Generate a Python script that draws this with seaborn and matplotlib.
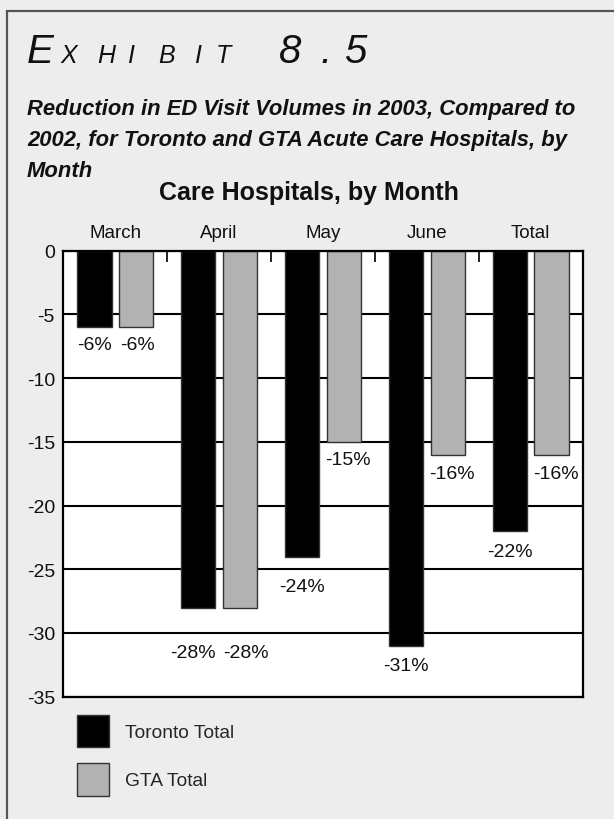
import matplotlib
matplotlib.use("Agg")
import matplotlib.pyplot as plt
import seaborn as sns
import pandas as pd
from matplotlib.patches import Rectangle

# ---- data ----
months = ["March", "April", "May", "June", "Total"]
toronto = [-6, -28, -24, -31, -22]
gta = [-6, -28, -15, -16, -16]
series_names = ["Toronto Total", "GTA Total"]
yticks = [0, -5, -10, -15, -20, -25, -30, -35]

# label offsets (pixels below bar end), style only
lab_dy = {"Toronto Total": [17, 45, 30, 20, 20], "GTA Total": [17, 45, 18, 19, 19]}
lab_dx = {"Toronto Total": [0, -5, 0, 0, 0], "GTA Total": [1, 6, 4, 4, 4]}

df = pd.DataFrame({
    "month": months * 2,
    "value": toronto + gta,
    "series": [series_names[0]] * len(months) + [series_names[1]] * len(months),
})

sns.set_theme(style="white")
FONT = ["Liberation Sans", "DejaVu Sans"]
plt.rcParams["font.family"] = FONT
plt.rcParams["axes.unicode_minus"] = False

W, H, DPI = 614, 820, 100
fig = plt.figure(figsize=(W / DPI, H / DPI), dpi=DPI)
fig.patch.set_facecolor("#EDEDED")

def fx(px):
    return px / W

def fy(py):
    return 1 - py / H

# border (runs off the right and bottom edges)
fig.patches.append(Rectangle((fx(7), fy(900)), fx(700), (900 - 12) / H,
                             transform=fig.transFigure, fill=False,
                             edgecolor="#555555", linewidth=1.6))

# title with spaced small caps
title_chars = [("E", 27, 29), ("X", 60, 18), ("H", 97, 18), ("I", 127, 18), ("B", 158, 18),
               ("I", 194, 18), ("T", 216, 18), ("8", 279, 29), (".", 320, 29), ("5", 344, 29)]
for ch, x, s in title_chars:
    fig.text(fx(x), fy(63), ch, fontsize=s, style="italic", color="#111111",
             ha="left", va="baseline")

sub_lines = ["Reduction in ED Visit Volumes in 2003, Compared to",
             "2002, for Toronto and GTA Acute Care Hospitals, by",
             "Month"]
for i, line in enumerate(sub_lines):
    fig.text(fx(27), fy(115 + i * 31), line, fontsize=15.8, weight="bold", style="italic",
             color="#111111", ha="left", va="baseline")

fig.text(fx(309), fy(200), "Care Hospitals, by Month", fontsize=18, weight="bold",
         color="#111111", ha="center", va="baseline")

# axes
ax = fig.add_axes([fx(63.3), fy(697.7), (582.7 - 63.3) / W, (697.7 - 251.7) / H])
ax.set_facecolor("white")
ax.set_axisbelow(True)

sns.barplot(data=df, x="month", y="value", hue="series", order=months,
            hue_order=series_names, palette=["#000000", "#B2B2B2"],
            width=0.8, gap=0.18, saturation=1, edgecolor="#333333", linewidth=1.0,
            ax=ax, legend=True, errorbar=None)
ax.set_ylim(-35, 0)
ax.set_xlim(-0.5, len(months) - 0.5)
ax.set_yticks(yticks)
ax.set_yticklabels([str(v) for v in yticks])
ax.yaxis.grid(True, color="black", linewidth=1.5)
ax.xaxis.grid(False)
ax.set_xlabel("")
ax.set_ylabel("")

for sp in ax.spines.values():
    sp.set_visible(True)
    sp.set_color("black")
    sp.set_linewidth(1.6)

ax.xaxis.tick_top()
ax.tick_params(axis="x", which="major", length=0, pad=7, labelsize=13.5, labelcolor="#111111")
ax.tick_params(axis="y", which="major", length=0, pad=6, labelsize=14, labelcolor="#111111")
ax.set_xticks([i + 0.5 for i in range(len(months) - 1)], minor=True)
ax.tick_params(axis="x", which="minor", direction="in", top=True, bottom=False,
               length=8, width=1.2, color="black")

# bar labels
for si, (name, vals) in enumerate([(series_names[0], toronto), (series_names[1], gta)]):
    for i, v in enumerate(vals):
        xpos = i + (-0.2 if si == 0 else 0.2)
        ax.annotate(f"{v}%", xy=(xpos, v), xytext=(lab_dx[name][i] * 0.72, -lab_dy[name][i] * 0.72),
                    textcoords="offset points", ha="center", va="center",
                    fontsize=14, color="#111111", annotation_clip=False)

sns.move_legend(ax, "upper left", bbox_to_anchor=(fx(77), fy(716)),
                bbox_transform=fig.transFigure, frameon=False, title=None,
                fontsize=13.8, handlelength=1.68, handleheight=2.2, handletextpad=0.85,
                labelspacing=0.85, borderpad=0, borderaxespad=0)

fig.savefig("out.png", dpi=DPI, facecolor=fig.get_facecolor())
